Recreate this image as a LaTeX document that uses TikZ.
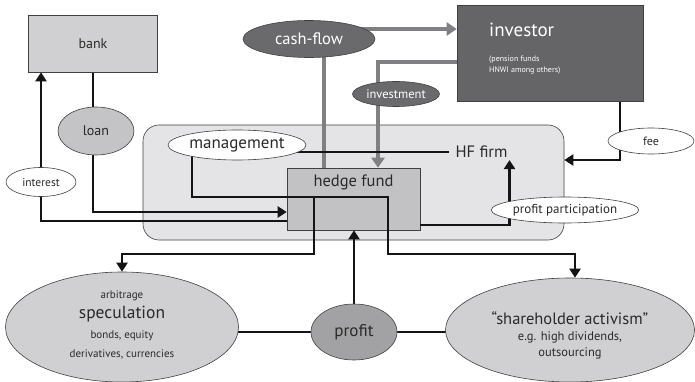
\documentclass[tikz,border=0pt]{standalone}
\usepackage{fontspec}
\setmainfont{PT Sans}
\usetikzlibrary{shapes.geometric,arrows.meta,backgrounds}
\definecolor{txt}{HTML}{2A2A2A}
\definecolor{dark}{HTML}{6A6A6C}
\definecolor{invc}{HTML}{656567}
\definecolor{gline}{HTML}{808082}
\definecolor{lightf}{HTML}{D0D0D2}
\definecolor{loanf}{HTML}{C4C4C6}
\definecolor{hff}{HTML}{C2C2C4}
\definecolor{regf}{HTML}{E4E4E6}
\definecolor{proff}{HTML}{A2A2A4}
\newcommand{\fs}[1]{\fontsize{#1}{#1}\selectfont}
\tikzset{
  outl/.style={draw=black!75, line width=0.6pt},
  ell/.style={ellipse, outl, inner sep=0pt, text=txt},
  lbl/.style={inner sep=0pt, text=txt},
  conn/.style={line width=2.8pt, draw=black!92},
  arr/.style={conn, -{Triangle[width=11pt,length=9pt]}},
  gconn/.style={line width=4pt, draw=gline},
  garr/.style={gconn, -{Triangle[width=13pt,length=10pt]}},
}
\begin{document}
\begin{tikzpicture}[x=1pt,y=-1pt]
\useasboundingbox (0,0) rectangle (695,382);
% boxes and ellipses
\node[rectangle, outl, fill=lightf, minimum width=129pt, minimum height=57pt, text=txt, font=\fs{14}] (bank) at (93,43.5) {bank};
\node[ell, fill=loanf, minimum width=76pt, minimum height=48pt, font=\fs{14}] (loan) at (96,131) {loan};
\node[ell, fill=white, minimum width=70pt, minimum height=29pt, font=\fs{11.5}] (interest) at (41,182) {interest};
\node[ell, fill=dark, minimum width=132pt, minimum height=37pt, text=white, font=\fs{16.5}] (cashflow) at (309,39) {cash-flow};
\node[rectangle, outl, fill=invc, minimum width=186pt, minimum height=96pt] (investor) at (550,53) {};
\node[anchor=west, inner sep=0pt, text=white, font=\fs{19}] (invtitle) at (489,30) {investor};
\node[anchor=west, inner sep=0pt, text=white, font=\fs{8}] (invsub1) at (489,60) {(pension funds};
\node[anchor=west, inner sep=0pt, text=white, font=\fs{8}] (invsub2) at (489,71) {HNWI among others)};
\node[ell, fill=dark, minimum width=87pt, minimum height=25pt, text=white, font=\fs{12.5}] (investment) at (396,94) {investment};
\node[ell, fill=white, minimum width=138pt, minimum height=30pt, font=\fs{17}] (management) at (237,145) {management};
\node[inner sep=0pt, text=txt, font=\fs{16.5}] (hffirm) at (481.5,152) {HF firm};
\node[ell, fill=white, minimum width=136pt, minimum height=26pt, font=\fs{13}] (profpart) at (565,210) {profit participation};
\node[ell, fill=white, minimum width=86pt, minimum height=26pt, font=\fs{12}] (fee) at (651,141) {fee};
\node[ell, fill=lightf, minimum width=233pt, minimum height=110pt] (speculation) at (122,327) {};
\node[lbl, font=\fs{11}] (spec1) at (122,296) {arbitrage};
\node[lbl, font=\fs{17.5}] (spec2) at (122,314) {speculation};
\node[lbl, font=\fs{11}] (spec3) at (122,336) {bonds, equity};
\node[lbl, font=\fs{11}] (spec4) at (122,354) {derivatives, currencies};
\node[ell, fill=lightf, minimum width=249pt, minimum height=104pt] (shareholder) at (570,330) {};
\node[lbl, font=\fs{16.5}] (sh1) at (570,318) {“shareholder activism”};
\node[lbl, font=\fs{12.5}] (sh2) at (570,337) {e.g. high dividends,};
\node[lbl, font=\fs{12.5}] (sh3) at (570,353) {outsourcing};
\node[ell, fill=proff, minimum width=86pt, minimum height=56pt, font=\fs{17}] (profit) at (354,332) {profit};
\begin{pgfonlayer}{background}
  \node[rectangle, rounded corners=16pt, outl, fill=regf, minimum width=421pt, minimum height=115pt] (region) at (353.5,182.5) {};
  \node[rectangle, outl, fill=hff, minimum width=133pt, minimum height=62pt] (hf) at (353.5,199) {};
  % gray flows
  \draw[gconn] ([xshift=-29.5pt]hf.north) -- ([xshift=-29.5pt]hf.north |- cashflow.center);
  \draw[garr] ([yshift=10pt]cashflow.center) -- ([yshift=10pt]cashflow.center -| investor.west);
  \draw[garr] ([yshift=-9pt]investor.west) -| ([xshift=24.5pt]hf.north);
  % black flows
  \draw[conn] (management.center |- hffirm.west) -- ([xshift=-6pt]hffirm.west);
  \draw[arr] (bank.south) |- ([yshift=-13pt]hf.west);
  \draw[arr] ([yshift=-22pt]hf.west) -| (interest.center |- bank.south);
  \draw[arr] ([xshift=70pt]investor.south) |- ([yshift=22.5pt]region.east);
  \draw[arr] ([yshift=-26pt]hf.east) -| ([xshift=28pt,yshift=-2pt]hffirm.south);
  \draw[arr] (profit.north) -- (profit.north |- hf.south);
  \draw[conn] (profit.center) -- (profit.center -| speculation.center);
  \draw[conn] (profit.center) -- (profit.center -| shareholder.center);
  \draw[arr] ([xshift=-45pt]management.center) |- ([xshift=34.5pt,yshift=2pt]hf.center) -- ++(0,57) -| ([xshift=5pt]shareholder.north);
  \draw[arr] ([xshift=-39.5pt,yshift=2pt]hf.center) -- ++(0,57) -| (speculation.north);
\end{pgfonlayer}
\node[text=txt, font=\fs{16.5}, inner sep=0pt] (hftext) at (353.5,182) {hedge fund};
\end{tikzpicture}
\end{document}
